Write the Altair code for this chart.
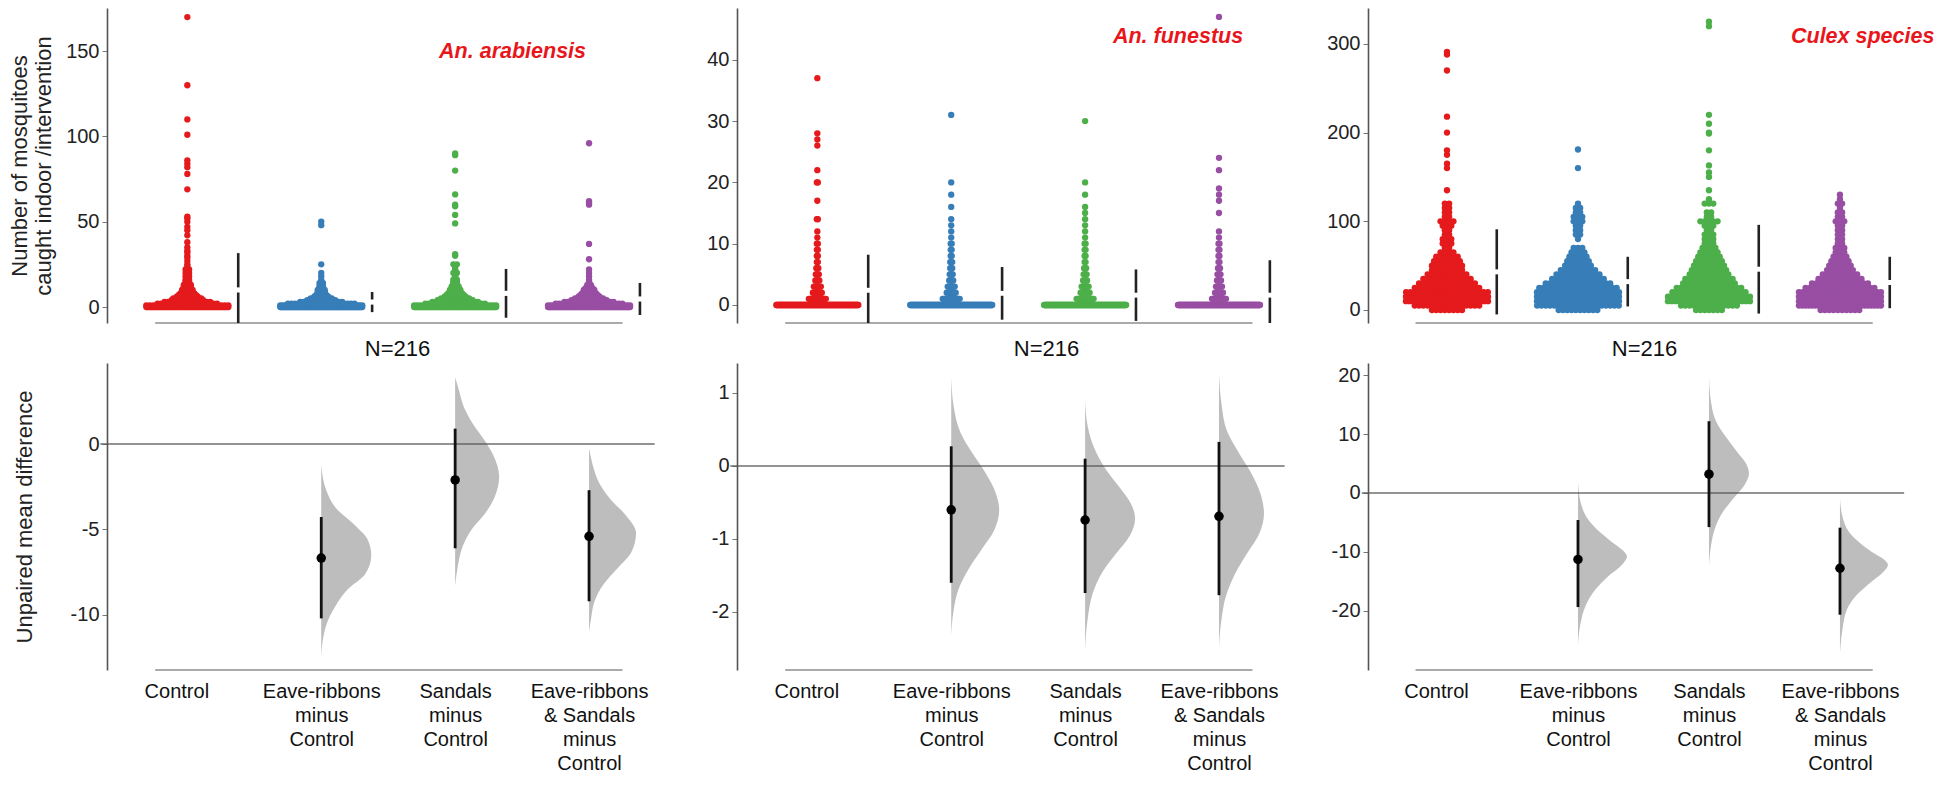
import altair as alt
import pandas as pd

FONT = "Liberation Sans"

groups = ["Control", "Eave-ribbons", "Sandals", "Eave-ribbons & Sandals"]
group_colors = ["#E41A1C", "#377EB8", "#4DAF4A", "#984EA3"]
diff_labels = [["Control"], ["Eave-ribbons", "minus", "Control"],
               ["Sandals", "minus", "Control"],
               ["Eave-ribbons", "& Sandals", "minus", "Control"]]
species = ["An. arabiensis", "An. funestus", "Culex species"]
sample_label = "N=216"
top_title = ["Number of  mosquitoes", "caught indoor /intervention"]
bottom_title = "Unpaired mean difference"

ara_ctrl_vals = [0, 1, 2, 3, 4, 5, 6, 7, 8, 9, 10, 11, 12, 13, 14, 15, 16, 17, 18, 19, 20, 22, 24, 25, 27, 29,
                 30, 32, 33, 35, 38, 42, 45, 47, 50, 52, 53, 69, 78, 82, 84, 86, 101, 110, 130, 170]
ara_ctrl_cnts = [67, 25, 18, 14, 10, 9, 7, 6, 5, 4, 4, 3, 3, 3, 2, 2, 2, 1, 2, 1, 2, 2, 1, 1, 1, 1,
                 1, 1, 1, 1, 1, 1, 1, 1, 1, 1, 1, 1, 1, 1, 1, 1, 1, 1, 1, 1]
ara_eave_vals = [0, 1, 2, 3, 4, 5, 6, 7, 8, 9, 10, 11, 12, 13, 14, 15, 16, 18, 20, 25, 48, 50]
ara_eave_cnts = [100, 35, 20, 13, 9, 7, 5, 4, 3, 3, 3, 2, 2, 1, 2, 1, 1, 1, 1, 1, 1, 1]
ara_sand_vals = [0, 1, 2, 3, 4, 5, 6, 7, 8, 9, 10, 11, 12, 13, 14, 15, 16, 17, 18, 20, 22, 23, 25, 30, 31,
                 49, 54, 59, 60, 66, 80, 89, 90]
ara_sand_cnts = [78, 28, 18, 14, 11, 9, 7, 6, 5, 4, 4, 3, 3, 2, 2, 2, 2, 1, 1, 2, 1, 1, 2, 1, 1,
                 1, 1, 1, 1, 1, 1, 1, 1]
ara_es_vals = [0, 1, 2, 3, 4, 5, 6, 7, 8, 9, 10, 11, 12, 13, 14, 15, 16, 18, 20, 22, 28, 37, 60, 61, 62, 96]
ara_es_cnts = [84, 32, 20, 15, 11, 9, 7, 6, 5, 4, 4, 3, 2, 2, 1, 1, 1, 1, 1, 1, 1, 1, 1, 1, 1, 1]

fun_ctrl_vals = [0, 1, 2, 3, 4, 5, 6, 7, 8, 9, 10, 11, 12, 14, 17, 20, 22, 26, 27, 28, 37]
fun_ctrl_cnts = [148, 18, 10, 8, 5, 4, 3, 2, 2, 2, 2, 1, 1, 2, 1, 2, 1, 1, 1, 1, 1]
fun_eave_vals = [0, 1, 2, 3, 4, 5, 6, 7, 8, 9, 10, 11, 12, 13, 14, 16, 18, 20, 31]
fun_eave_cnts = [151, 18, 10, 8, 5, 4, 3, 3, 2, 2, 2, 1, 1, 1, 1, 1, 1, 1, 1]
fun_sand_vals = [0, 1, 2, 3, 4, 5, 6, 7, 8, 9, 10, 11, 12, 13, 14, 15, 16, 18, 20, 30]
fun_sand_cnts = [151, 18, 10, 8, 5, 4, 3, 2, 2, 2, 2, 1, 1, 1, 1, 1, 1, 1, 1, 1]
fun_es_vals = [0, 1, 2, 3, 4, 5, 6, 7, 8, 9, 10, 11, 12, 15, 17, 18, 19, 22, 24, 47]
fun_es_cnts = [156, 15, 9, 7, 5, 4, 3, 2, 2, 2, 2, 1, 1, 1, 1, 1, 1, 1, 1, 1]

cul_ctrl_vals = [0, 5, 10, 15, 20, 25, 30, 35, 40, 45, 50, 55, 60, 65, 70, 75, 80, 85, 90, 95, 100, 105, 110,
                 115, 120, 135, 160, 165, 175, 180, 200, 218, 270, 288, 291]
cul_ctrl_cnts = [8, 16, 25, 25, 20, 16, 14, 12, 10, 8, 8, 7, 6, 4, 2, 3, 3, 2, 2, 3, 4, 2, 2,
                 2, 2, 1, 1, 1, 1, 1, 1, 1, 1, 1, 1]
cul_eave_vals = [0, 5, 10, 15, 20, 25, 30, 35, 40, 45, 50, 55, 60, 65, 70, 80, 85, 90, 95, 100, 105, 110, 115,
                 120, 160, 181]
cul_eave_cnts = [10, 20, 26, 25, 22, 19, 16, 13, 11, 9, 7, 6, 5, 4, 3, 1, 2, 2, 2, 3, 3, 2, 2, 1, 1, 1]
cul_sand_vals = [0, 5, 10, 15, 20, 25, 30, 35, 40, 45, 50, 55, 60, 65, 70, 75, 80, 85, 90, 95, 100, 105, 110,
                 120, 125, 135, 150, 155, 163, 180, 199, 200, 210, 220, 320, 325]
cul_sand_cnts = [7, 14, 22, 22, 18, 16, 13, 12, 10, 9, 8, 7, 6, 5, 4, 3, 3, 3, 2, 3, 5, 2, 2,
                 3, 1, 1, 1, 1, 1, 1, 1, 1, 1, 1, 1, 1]
cul_es_vals = [0, 5, 10, 15, 20, 25, 30, 35, 40, 45, 50, 55, 60, 65, 70, 75, 80, 85, 90, 95, 100, 105, 110,
               115, 120, 125, 130]
cul_es_cnts = [10, 26, 30, 27, 22, 17, 14, 11, 9, 7, 6, 5, 4, 3, 3, 2, 2, 2, 2, 2, 3, 2, 2, 1, 2, 1, 1]

ara_mean = [10.0, 2.9, 8.0, 4.7]
ara_sd = [21.6, 5.9, 14.3, 9.4]
fun_mean = [2.4, 1.9, 1.6, 1.6]
fun_sd = [5.8, 4.3, 4.2, 5.7]
cul_mean = [43, 32, 46, 31]
cul_sd = [48, 28, 50, 29]

ara_diff = [-6.67, -2.1, -5.4]
ara_lo = [-10.2, -6.1, -9.2]
ara_hi = [-4.27, 0.9, -2.7]
fun_diff = [-0.6, -0.74, -0.69]
fun_lo = [-1.6, -1.74, -1.77]
fun_hi = [0.27, 0.1, 0.33]
cul_diff = [-11.3, 3.2, -12.8]
cul_lo = [-19.4, -5.8, -20.7]
cul_hi = [-4.6, 12.2, -5.9]

ara_vio_eave_y = [-1.2, -2.7, -3.7, -4.8, -5.6, -6.5, -7.6, -8.5, -9.5, -10.5, -11.5, -12.5]
ara_vio_eave_w = [0, 0.10, 0.28, 0.69, 0.93, 1.0, 0.88, 0.53, 0.28, 0.11, 0.03, 0]
ara_vio_sand_y = [3.9, 3.2, 2.2, 1.2, 0.2, -0.7, -1.9, -3.1, -4.1, -5.0, -6.0, -7.2, -8.3]
ara_vio_sand_w = [0, 0.07, 0.17, 0.35, 0.59, 0.77, 0.88, 0.79, 0.59, 0.33, 0.15, 0.05, 0]
ara_vio_es_y = [-0.25, -1.2, -2.2, -3.2, -4.15, -5.2, -6.3, -7.3, -8.25, -9.2, -10.2, -11.0]
ara_vio_es_w = [0, 0.07, 0.19, 0.42, 0.73, 0.94, 0.85, 0.56, 0.28, 0.11, 0.04, 0]

fun_vio_eave_y = [1.22, 0.81, 0.45, 0.17, -0.1, -0.37, -0.6, -0.88, -1.15, -1.42, -1.7, -1.97, -2.32]
fun_vio_eave_w = [0, 0.05, 0.19, 0.43, 0.69, 0.89, 0.96, 0.86, 0.6, 0.34, 0.14, 0.05, 0]
fun_vio_sand_y = [0.9, 0.55, 0.25, -0.05, -0.3, -0.52, -0.72, -0.95, -1.2, -1.45, -1.75, -2.1, -2.54]
fun_vio_sand_w = [0, 0.05, 0.18, 0.42, 0.7, 0.92, 1.0, 0.9, 0.62, 0.35, 0.15, 0.05, 0]
fun_vio_es_y = [1.27, 0.85, 0.48, 0.2, -0.08, -0.38, -0.65, -0.92, -1.2, -1.48, -1.78, -2.1, -2.48]
fun_vio_es_w = [0, 0.05, 0.16, 0.38, 0.63, 0.83, 0.9, 0.81, 0.56, 0.32, 0.14, 0.05, 0]

cul_vio_eave_y = [1.9, -1.5, -4.2, -6.5, -8.4, -9.8, -10.8, -12.2, -14.2, -16.5, -19.2, -22.2, -25.9]
cul_vio_eave_w = [0, 0.05, 0.18, 0.42, 0.69, 0.9, 0.98, 0.88, 0.6, 0.34, 0.15, 0.05, 0]
cul_vio_sand_y = [19.8, 15.5, 12.2, 9.5, 7.0, 5.0, 3.3, 1.5, -0.8, -3.2, -6.0, -9.0, -12.4]
cul_vio_sand_w = [0, 0.04, 0.14, 0.34, 0.56, 0.74, 0.8, 0.72, 0.5, 0.28, 0.12, 0.04, 0]
cul_vio_es_y = [-0.9, -4.0, -6.5, -8.5, -10.2, -11.3, -12.2, -13.5, -15.3, -17.4, -19.8, -23.2, -27.3]
cul_vio_es_w = [0, 0.05, 0.17, 0.4, 0.67, 0.88, 0.96, 0.86, 0.6, 0.33, 0.14, 0.05, 0]

label_x = [1.88, 2.208, 2.626]
label_y = [149.5, 43.7, 307.8]

WIDTHS = [549, 550, 541]
PPU = [133.9, 133.9, 131.0]
XDOM = [[-0.6, 3.5], [-0.6, 3.508], [-0.603, 3.527]]
TOP_H = 315
BOT_H = 307
TOP_YDOM = [[-9.38, 175.3], [-2.94, 48.45], [-14.66, 340.5]]
BOT_YDOM = [[-13.22, 4.74], [-2.795, 1.411], [-30.1, 22.1]]
TOP_TICKS = [[0, 50, 100, 150], [0, 10, 20, 30, 40], [0, 100, 200, 300]]
BOT_TICKS = [[-10, -5, 0], [-2, -1, 0, 1], [-20, -10, 0, 10, 20]]
STEP = [3.5, 1.0, 4.3]
CAP = 82
GAP = [1.5, 0.4, 2.8]
N_X = [290, 309, 276]
VW = 50

swarm_vals = [[ara_ctrl_vals, ara_eave_vals, ara_sand_vals, ara_es_vals],
              [fun_ctrl_vals, fun_eave_vals, fun_sand_vals, fun_es_vals],
              [cul_ctrl_vals, cul_eave_vals, cul_sand_vals, cul_es_vals]]
swarm_cnts = [[ara_ctrl_cnts, ara_eave_cnts, ara_sand_cnts, ara_es_cnts],
              [fun_ctrl_cnts, fun_eave_cnts, fun_sand_cnts, fun_es_cnts],
              [cul_ctrl_cnts, cul_eave_cnts, cul_sand_cnts, cul_es_cnts]]
means = [ara_mean, fun_mean, cul_mean]
sds = [ara_sd, fun_sd, cul_sd]
diffs = [ara_diff, fun_diff, cul_diff]
los = [ara_lo, fun_lo, cul_lo]
his = [ara_hi, fun_hi, cul_hi]
vio_y = [[ara_vio_eave_y, ara_vio_sand_y, ara_vio_es_y],
         [fun_vio_eave_y, fun_vio_sand_y, fun_vio_es_y],
         [cul_vio_eave_y, cul_vio_sand_y, cul_vio_es_y]]
vio_w = [[ara_vio_eave_w, ara_vio_sand_w, ara_vio_es_w],
         [fun_vio_eave_w, fun_vio_sand_w, fun_vio_es_w],
         [cul_vio_eave_w, cul_vio_sand_w, cul_vio_es_w]]

lab_expr = "[" + ",".join("[" + ",".join("'" + s + "'" for s in L) + "]" for L in diff_labels) + "][datum.value]"


def y_axis(values, title, tpad):
    kw = dict(values=values, grid=False, domainColor="#555555", domainWidth=1.6, tickColor="#777777",
              tickSize=5, tickWidth=1, labelFont=FONT, labelFontSize=20, labelColor="#222222",
              labelPadding=3, labelExpr="'' + datum.value", titleFont=FONT, titleFontSize=22,
              titleFontWeight="normal", titleColor="#222222", titlePadding=tpad, titleLineHeight=24)
    kw["title"] = title if title is not None else ""
    return alt.Axis(**kw)


def top_panel(k):
    xs = alt.Scale(domain=XDOM[k], nice=False, zero=False)
    ys = alt.Scale(domain=TOP_YDOM[k], nice=False, zero=False)
    xa = alt.Axis(title=sample_label, labels=False, ticks=False, domain=False, grid=False,
                  titleFont=FONT, titleFontSize=22, titleFontWeight="normal", titleColor="#111111",
                  titleX=N_X[k], titleY=25, titleBaseline="middle", titleAlign="center")
    ya = y_axis(TOP_TICKS[k], top_title if k == 0 else None, 10)

    def X(f):
        return alt.X(f, scale=xs, axis=xa)

    def Y(f):
        return alt.Y(f, scale=ys, axis=ya)

    rows = []
    for gi in range(4):
        for v, c in zip(swarm_vals[k][gi], swarm_cnts[k][gi]):
            rows.append({"g": gi, "grp": groups[gi], "v": v, "n": c})
    sdf = pd.DataFrame(rows)
    pts = alt.Chart(sdf).transform_calculate(
        seq="sequence(0, datum.n)"
    ).transform_flatten(["seq"]).transform_calculate(
        xp=f"datum.g + (datum.seq - (datum.n - 1) / 2) * min({STEP[k]}, {CAP} / max(datum.n - 1, 0.001)) / {PPU[k]}"
    ).mark_circle(size=40, opacity=1).encode(
        x=X("xp:Q"), y=Y("v:Q"),
        color=alt.Color("grp:N", scale=alt.Scale(domain=groups, range=group_colors), legend=None),
    )
    gdf = pd.DataFrame({"g": [0, 1, 2, 3], "m": means[k], "s": sds[k]})
    gb = alt.Chart(gdf).transform_calculate(
        xb="datum.g + 0.38", lo="datum.m - datum.s", lo2=f"datum.m - {GAP[k]}",
        hi=f"datum.m + {GAP[k]}", hi2="datum.m + datum.s")
    low = gb.mark_rule(strokeWidth=2.6, color="#222222", clip=True).encode(
        x=X("xb:Q"), y=Y("lo:Q"), y2="lo2:Q")
    high = gb.mark_rule(strokeWidth=2.6, color="#222222", clip=True).encode(
        x=X("xb:Q"), y=Y("hi:Q"), y2="hi2:Q")
    base = alt.Chart(pd.DataFrame({"a": [-0.24], "b": [3.25], "yb": [TOP_YDOM[k][0]]})).mark_rule(
        color="#aaaaaa", strokeWidth=2).encode(x=X("a:Q"), x2="b:Q", y=Y("yb:Q"))
    lab = alt.Chart(pd.DataFrame({"t": [species[k]], "lx": [label_x[k]], "ly": [label_y[k]]})).mark_text(
        align="left", baseline="middle", font=FONT, fontSize=21.5, fontStyle="italic", fontWeight="bold",
        color="#E8161B").encode(x=X("lx:Q"), y=Y("ly:Q"), text="t:N")
    return alt.layer(pts, base, low, high, lab).properties(width=WIDTHS[k], height=TOP_H)


def bottom_panel(k):
    xs = alt.Scale(domain=XDOM[k], nice=False, zero=False)
    ys = alt.Scale(domain=BOT_YDOM[k], nice=False, zero=False)
    xa = alt.Axis(values=[0, 1, 2, 3], labelExpr=lab_expr, title="", domain=False, ticks=False,
                  grid=False, labelFont=FONT, labelFontSize=20, labelColor="#111111", labelLineHeight=24,
                  labelPadding=11, labelAngle=0, labelBaseline="top", labelAlign="center",
                  labelOverlap=False, labelFlush=False,
                  labelOffset={"condition": {"test": "datum.value == 0", "value": -11}, "value": 0})
    ya = y_axis(BOT_TICKS[k], bottom_title if k == 0 else None, 34)

    def X(f):
        return alt.X(f, scale=xs, axis=xa)

    def Y(f):
        return alt.Y(f, scale=ys, axis=ya)

    vrows = []
    for j in range(3):
        for v, w in zip(vio_y[k][j], vio_w[k][j]):
            vrows.append({"g": j + 1, "v": v, "w": w})
    vdf = pd.DataFrame(vrows)
    vio = alt.Chart(vdf).transform_calculate(
        xl="datum.g", xr=f"datum.g + datum.w * {VW} / {PPU[k]}"
    ).mark_area(orient="horizontal", color="#bdbdbd", opacity=1, interpolate="monotone").encode(
        y=Y("v:Q"), x=X("xl:Q"), x2="xr:Q", detail="g:N")
    zero = alt.Chart(pd.DataFrame({"a": [-0.65], "b": [3.49], "z": [0]})).mark_rule(
        color="#555555", strokeWidth=1.6, opacity=0.85).encode(x=X("a:Q"), x2="b:Q", y=Y("z:Q"))
    base = alt.Chart(pd.DataFrame({"a": [-0.24], "b": [3.25], "yb": [BOT_YDOM[k][0]]})).mark_rule(
        color="#aaaaaa", strokeWidth=2).encode(x=X("a:Q"), x2="b:Q", y=Y("yb:Q"))
    ddf = pd.DataFrame({"g": [1, 2, 3], "d": diffs[k], "lo": los[k], "hi": his[k]})
    ci = alt.Chart(ddf).mark_rule(strokeWidth=2.8, color="#111111").encode(
        x=X("g:Q"), y=Y("lo:Q"), y2="hi:Q")
    dot = alt.Chart(ddf).mark_circle(size=90, color="#000000", opacity=1).encode(
        x=X("g:Q"), y=Y("d:Q"))
    return alt.layer(vio, zero, base, ci, dot).properties(width=WIDTHS[k], height=BOT_H)


chart = alt.concat(
    top_panel(0), top_panel(1), top_panel(2),
    bottom_panel(0), bottom_panel(1), bottom_panel(2),
    columns=3,
).properties(
    spacing={"row": 40, "column": 81}, bounds="flush", align="each", padding=0
).resolve_scale(x="independent", y="independent").configure_view(stroke=None)

chart.save("out.html", embed_options={"renderer": "svg", "actions": False})
